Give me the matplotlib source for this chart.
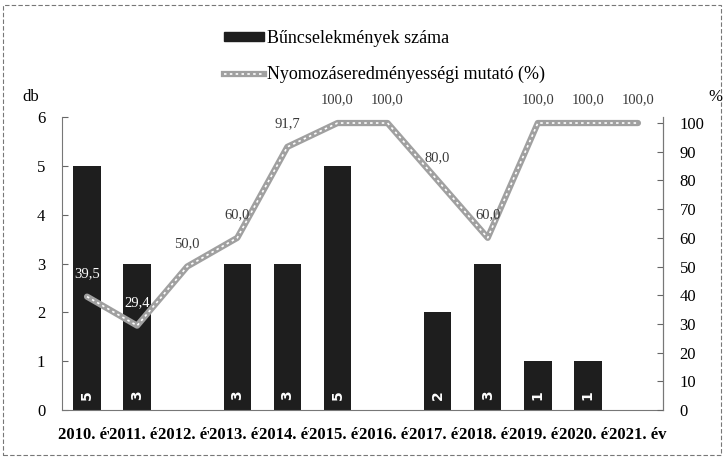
import matplotlib.pyplot as plt
from matplotlib.lines import Line2D
from matplotlib.patches import Rectangle
import numpy as np

plt.rcParams["font.family"] = ["Liberation Serif", "DejaVu Serif"]

years = ["2010. év", "2011. év", "2012. év", "2013. év", "2014. év", "2015. év",
         "2016. év", "2017. év", "2018. év", "2019. év", "2020. év", "2021. év"]
crimes = [5, 3, 0, 3, 3, 5, 0, 2, 3, 1, 1, 0]
clearance = [39.5, 29.4, 50.0, 60.0, 91.7, 100.0, 100.0, 80.0, 60.0, 100.0, 100.0, 100.0]

BAR_C = "#1e1e1e"
LINE_C = "#a0a0a0"

fig = plt.figure(figsize=(7.24, 4.65), dpi=100)
ax = fig.add_axes([62 / 724, 1 - 410 / 465, 601 / 724, 293 / 465])
ax2 = ax.twinx()
ax.set_zorder(1)
ax.patch.set_visible(False)
ax2.set_zorder(2)

x = np.arange(len(years))
ax.bar(x, crimes, width=0.55, color=BAR_C, zorder=2)
for xi, v in zip(x, crimes):
    if v > 0:
        ax.text(xi, 0.3, str(v), rotation=90, ha="center", va="center",
                color="white", fontsize=10, fontweight="bold", family="DejaVu Sans", zorder=3)

ax.set_xlim(-0.5, len(years) - 0.5)
ax.set_ylim(0, 6)
ax.set_yticks(range(7))
ax.set_xticks(x)
# labels are wider than a category, later ones cover the "v" of the previous one
ax.set_xticklabels(years, fontsize=12, fontweight="bold")
for lab in ax.get_xticklabels():
    lab.set_bbox(dict(facecolor="white", edgecolor="none", pad=0))
ax.tick_params(axis="x", length=0, pad=12)
ax.tick_params(axis="y", direction="in", length=4, labelsize=12, pad=12, color="#666")

ax2.set_ylim(0, 102.1)
ax2.set_yticks(range(0, 101, 10))
ax2.tick_params(axis="y", direction="in", length=4, labelsize=12, pad=12, color="#666")

for a in (ax, ax2):
    a.spines["top"].set_visible(False)
    for s in ("left", "right", "bottom"):
        a.spines[s].set_color("#777")
        a.spines[s].set_linewidth(0.8)
ax2.spines["left"].set_visible(False)
ax2.spines["bottom"].set_visible(False)

ax2.plot(x, clearance, color=LINE_C, lw=4.5, solid_capstyle="round")
ax2.plot(x, clearance, color="white", lw=1.2, dashes=(1.5, 2))

for xi, v, c in zip(x, clearance, crimes):
    label_h = (v + 10) * 6 / 102.1
    col = "white" if label_h < c else "#3a3a3a"
    ax2.annotate(f"{v:.1f}".replace(".", ","), (xi, v), xytext=(0, 12),
                 textcoords="offset points", ha="center", va="bottom",
                 fontsize=10.5, color=col, zorder=4)

fig.text(22 / 724, 1 - 97 / 465, "db", fontsize=12, ha="left", va="center")
fig.text(715 / 724, 1 - 97 / 465, "%", fontsize=12, ha="center", va="center")

bar_handle = Rectangle((0, 0), 1, 1, color=BAR_C)
line_handle = (Line2D([], [], color=LINE_C, lw=4.5),
               Line2D([], [], color="white", lw=1.2, dashes=(1.5, 2)))
fig.legend([bar_handle, line_handle],
           ["Bűncselekmények száma", "Nyomozáseredményességi mutató (%)"],
           loc="upper left", bbox_to_anchor=(224 / 724, 1 - 30 / 465),
           frameon=False, fontsize=13, handlelength=2.2, handleheight=0.45,
           handletextpad=0.2, labelspacing=1.05, borderpad=0, borderaxespad=0)

fig.patches.append(Rectangle((3 / 724, 10 / 465), 718 / 724, 450 / 465,
                             transform=fig.transFigure, fill=False,
                             edgecolor="#777", lw=0.8, linestyle=(0, (4, 2))))

fig.savefig("out.png", dpi=100)
